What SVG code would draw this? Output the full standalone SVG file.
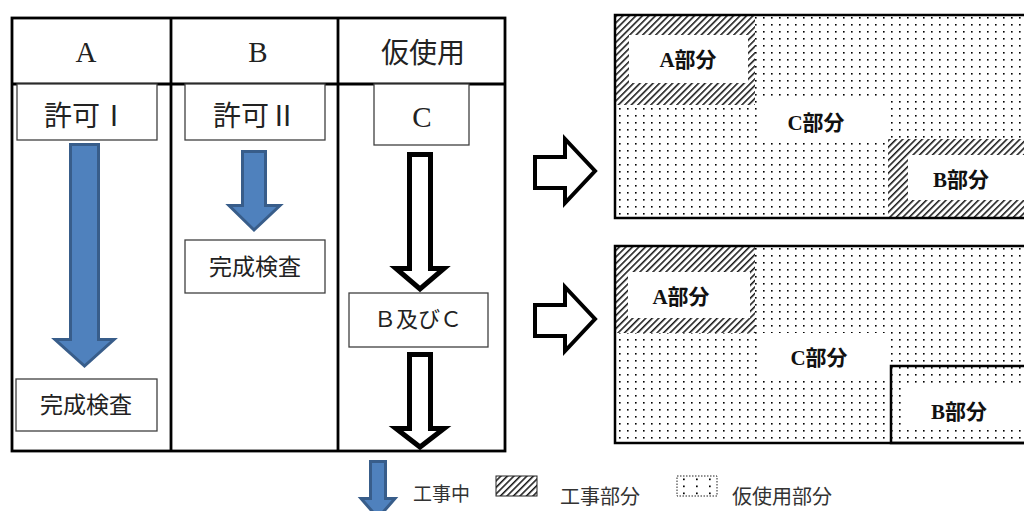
<svg xmlns="http://www.w3.org/2000/svg" width="1024" height="511" viewBox="0 0 1024 511">
<style>
.tbl{fill:none;stroke:#000;stroke-width:2.8}
.box{fill:#fff;stroke:#404040;stroke-width:1.3}
.blue{fill:#4f81bd;stroke:#385d8a;stroke-width:3;stroke-linejoin:miter}
.open{fill:#fff;stroke:#000;stroke-width:5;stroke-linejoin:miter}
.open2{fill:#fff;stroke:#000;stroke-width:4;stroke-linejoin:miter}
.lat{font-family:"Liberation Serif",serif;fill:#222}
.jp{font-family:"Liberation Serif","Noto Sans CJK JP",sans-serif;fill:#222;dominant-baseline:central;text-anchor:middle}
.lbl{font-family:"Liberation Serif","Noto Sans CJK JP",sans-serif;font-weight:bold;font-size:21px;fill:#111;dominant-baseline:central;text-anchor:middle}
.leg{font-family:"Noto Sans CJK JP",sans-serif;fill:#333;dominant-baseline:central}
.frame{fill:none;stroke:#000;stroke-width:2.5}
</style>
<defs>
<pattern id="dots" width="8" height="7" patternUnits="userSpaceOnUse">
<rect x="3" y="3" width="1.6" height="1.6" fill="#000"/>
</pattern>
<pattern id="dotsL" width="13" height="7" patternUnits="userSpaceOnUse" x="677" y="476">
<rect x="6" y="2.5" width="1.7" height="1.7" fill="#000"/>
</pattern>
<pattern id="hatch" width="4.6" height="4.6" patternUnits="userSpaceOnUse" patternTransform="rotate(45)">
<rect x="0" y="0" width="4.6" height="4.6" fill="#fff"/>
<line x1="0.8" y1="0" x2="0.8" y2="4.6" stroke="#000" stroke-width="1.4"/>
</pattern>
<pattern id="hatchL" width="4.6" height="4.6" patternUnits="userSpaceOnUse" patternTransform="rotate(45)">
<rect x="0" y="0" width="4.6" height="4.6" fill="#fff"/>
<line x1="0.8" y1="0" x2="0.8" y2="4.6" stroke="#000" stroke-width="1.4"/>
</pattern>
</defs>
<rect width="1024" height="511" fill="#fff"/>

<g id="table">
<rect class="tbl" x="12" y="18" width="493" height="433"/>
<line class="tbl" x1="171" y1="18" x2="171" y2="451"/>
<line class="tbl" x1="338" y1="18" x2="338" y2="451"/>
<line class="tbl" x1="12" y1="84" x2="505" y2="84"/>
<text class="lat" x="86" y="62" font-size="29" text-anchor="middle">A</text>
<text class="lat" x="258" y="62" font-size="29" text-anchor="middle">B</text>
<text class="jp" x="423" y="53" font-size="28">仮使用</text>
</g>

<g id="kyokaI">
<rect class="box" x="17" y="84" width="140" height="56"/>
<text class="jp" x="86" y="116" font-size="28">許可Ⅰ</text>
</g>
<g id="kyokaII">
<rect class="box" x="185" y="84" width="140" height="56"/>
<text class="jp" x="255" y="116" font-size="28">許可Ⅱ</text>
</g>
<g id="nodeC">
<rect class="box" x="374" y="84" width="95" height="61"/>
<text class="lat" x="422" y="127" font-size="29" text-anchor="middle">C</text>
</g>
<g id="kanseiB">
<rect class="box" x="185" y="240" width="140" height="53"/>
<text class="jp" x="255" y="267" font-size="23">完成検査</text>
</g>
<g id="kanseiA">
<rect class="box" x="16" y="379" width="141" height="52"/>
<text class="jp" x="86" y="405" font-size="23">完成検査</text>
</g>
<g id="BandC">
<rect class="box" x="349" y="293" width="139" height="54"/>
<text class="jp" x="418" y="319" font-size="22">Ｂ及びＣ</text>
</g>

<g id="connectors">
<polygon class="blue" points="70.5,144.5 98.5,144.5 98.5,339.5 114,339.5 84.5,366 55,339.5 70.5,339.5"/>
<polygon class="blue" points="242.5,151.5 265.5,151.5 265.5,205.5 280,205.5 254,230 229,205.5 242.5,205.5"/>
<polygon class="open" points="409.5,154.5 430.5,154.5 430.5,268.5 444,268.5 420,289 396,268.5 409.5,268.5"/>
<polygon class="open" points="409.5,354.5 430.5,354.5 430.5,428.5 444,428.5 420,447 396,428.5 409.5,428.5"/>
<polygon class="open2" points="535,157 565,157 565,139 595,171 565,203 565,188 535,188"/>
<polygon class="open2" points="535,305 565,305 565,287 595,319 565,351 565,336 535,336"/>
</g>

<g id="plan1">
<rect x="615" y="15" width="420" height="203" fill="url(#dots)"/>
<rect x="615" y="15" width="140" height="90" fill="url(#hatch)"/>
<rect x="629" y="35" width="119" height="48" fill="#fff"/>
<rect x="888" y="139" width="140" height="79" fill="url(#hatch)"/>
<rect x="908" y="155" width="120" height="45" fill="#fff"/>
<rect x="763" y="100" width="125" height="43" fill="#fff"/>
<rect class="frame" x="615" y="15" width="420" height="203"/>
<text class="lbl" x="688" y="60">A部分</text>
<text class="lbl" x="816" y="123">C部分</text>
<text class="lbl" x="961" y="180">B部分</text>
</g>

<g id="plan2">
<rect x="615" y="246" width="420" height="197" fill="url(#dots)"/>
<rect x="615" y="246" width="140" height="87" fill="url(#hatch)"/>
<rect x="628" y="272" width="122" height="46" fill="#fff"/>
<rect x="760" y="333" width="127" height="44" fill="#fff"/>
<rect x="905" y="385" width="130" height="45" fill="#fff"/>
<rect class="frame" x="891" y="366" width="140" height="77"/>
<rect class="frame" x="615" y="246" width="420" height="197"/>
<text class="lbl" x="681" y="297">A部分</text>
<text class="lbl" x="819" y="358">C部分</text>
<text class="lbl" x="959" y="412">B部分</text>
</g>

<g id="legend">
<polygon class="blue" points="370.5,461.5 385.5,461.5 385.5,498.5 395,498.5 378,518 361,498.5 370.5,498.5"/>
<text class="leg" x="413" y="492" font-size="19">工事中</text>
<rect x="496" y="476" width="41" height="20" fill="url(#hatchL)" stroke="#222" stroke-width="1"/>
<text class="leg" x="560" y="495" font-size="20">工事部分</text>
<rect x="677" y="476" width="40" height="20" fill="url(#dotsL)" stroke="#222" stroke-width="1" stroke-dasharray="1.5,1.5"/>
<text class="leg" x="732" y="495" font-size="20">仮使用部分</text>
</g>
</svg>
